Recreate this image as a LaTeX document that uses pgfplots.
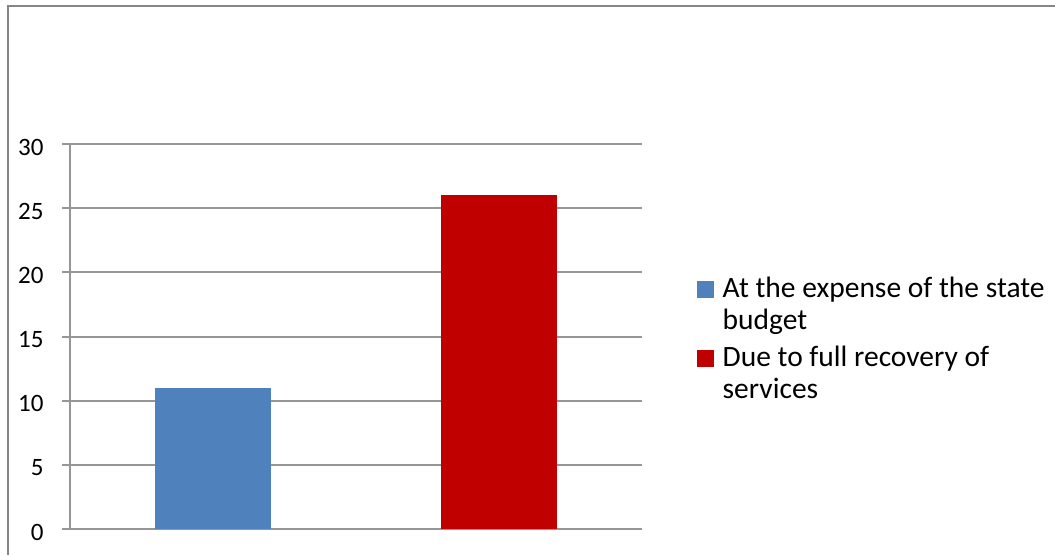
\documentclass[border=0pt]{standalone}
\usepackage{fontspec}
\setmainfont{Carlito}
\usepackage{pgfplots}
\pgfplotsset{compat=1.18}
\definecolor{barblue}{RGB}{79,129,189}
\definecolor{barred}{RGB}{192,0,0}
\definecolor{gridgray}{RGB}{150,150,150}
\definecolor{framegray}{RGB}{134,134,134}
\begin{document}
\begin{tikzpicture}
\useasboundingbox (-70pt,-26pt) rectangle (985pt,529pt);
\draw[framegray, line width=1.5pt] (-62pt,-26pt) -- (-62pt,523pt) -- (985pt,523pt);
\begin{axis}[
  scale only axis,
  width=572pt, height=385pt,
  ybar, bar shift=0pt, bar width=0.405,
  xmin=-0.5, xmax=1.5,
  ymin=0, ymax=30,
  ytick={0,5,...,30},
  xtick=\empty,
  axis x line*=bottom,
  axis y line*=left,
  axis line style={gridgray, line width=2pt},
  ymajorgrids,
  major grid style={gridgray, line width=2pt},
  tick align=outside,
  major tick length=8pt,
  tick style={gridgray, line width=2pt},
  /pgf/number format/assume math mode=true,
  yticklabel style={font=\fontsize{25}{30}\selectfont, text=black, yshift=-3pt, xshift=-15pt},
  legend style={draw=none, fill=none, at={(1.09,0.666)}, anchor=north west,
    font=\fontsize{29.5}{32}\selectfont, cells={align=left, anchor=west},
    row sep=11pt, column sep=7pt},
  legend image code/.code={\fill[#1] (0pt,6pt) rectangle (17pt,23pt);},
]
\addplot[fill=barblue, draw=none] coordinates {(0,11)};
\addlegendentry{At the expense of the state\\budget}
\addplot[fill=barred, draw=none] coordinates {(1,26)};
\addlegendentry{Due to full recovery of\\services}
\end{axis}
\end{tikzpicture}
\end{document}
